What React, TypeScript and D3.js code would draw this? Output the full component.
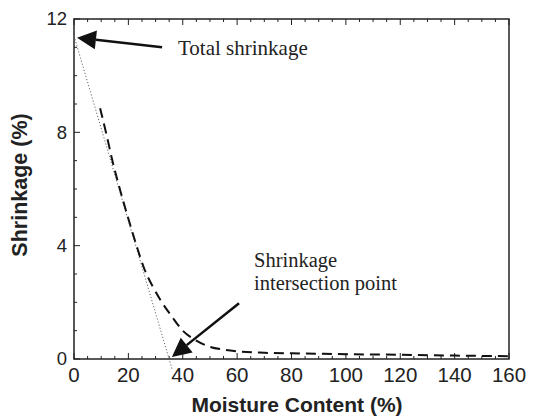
import React, { useEffect, useRef } from 'react';
import * as d3 from 'd3';

// dashed shrinkage curve
const moisture = [9.6, 12, 14, 17, 20, 23, 26, 29, 32, 36, 40, 45, 50, 55, 60, 70, 80, 100, 120, 140, 160];
const shrinkage = [8.85, 7.9, 7.05, 5.95, 4.95, 4.0, 3.15, 2.55, 2.05, 1.5, 1.0, 0.65, 0.43, 0.33, 0.27, 0.22, 0.2, 0.17, 0.15, 0.12, 0.1];

// dotted line from total shrinkage to the intersection point
const lineX = [0, 36.2];
const lineY = [11.4, -0.4];

const xTicks = [0, 20, 40, 60, 80, 100, 120, 140, 160];
const yTicks = [0, 4, 8, 12];

const W = 534;
const H = 416;

const App: React.FC = () => {
  const svgRef = useRef<SVGSVGElement>(null);

  useEffect(() => {
    const svg = d3.select(svgRef.current);
    svg.selectAll('*').remove();

    const left = 74, right = 509, top = 19, bottom = 359;
    const x = d3.scaleLinear().domain([0, 160]).range([left, right]);
    const y = d3.scaleLinear().domain([0, 12]).range([bottom, top]);

    const g = svg.append('g');
    const sans = 'Liberation Sans, Arial, sans-serif';
    const serif = 'Liberation Serif, Times New Roman, serif';

    // minor + major ticks, pointing inward
    const minorX = d3.range(0, 161, 5);
    const minorY = d3.range(0, 13, 1);
    minorX.forEach(v => {
      const len = v % 20 === 0 ? 6 : 3;
      g.append('line').attr('x1', x(v)).attr('x2', x(v)).attr('y1', bottom).attr('y2', bottom - len)
        .attr('stroke', '#222').attr('stroke-width', 1);
      g.append('line').attr('x1', x(v)).attr('x2', x(v)).attr('y1', top).attr('y2', top + len)
        .attr('stroke', '#222').attr('stroke-width', 1);
    });
    minorY.forEach(v => {
      const len = v % 4 === 0 ? 6 : 3;
      g.append('line').attr('x1', left).attr('x2', left + len).attr('y1', y(v)).attr('y2', y(v))
        .attr('stroke', '#222').attr('stroke-width', 1);
    });

    // frame
    g.append('rect')
      .attr('x', left).attr('y', top)
      .attr('width', right - left).attr('height', bottom - top)
      .attr('fill', 'none').attr('stroke', '#222').attr('stroke-width', 1.5);

    // tick labels
    g.selectAll('.xt').data(xTicks).enter().append('text')
      .attr('x', d => x(d)).attr('y', 382)
      .attr('text-anchor', 'middle')
      .attr('font-family', sans)
      .attr('font-size', 20.5).attr('fill', '#222')
      .text(d => d);
    g.selectAll('.yt').data(yTicks).enter().append('text')
      .attr('x', 67).attr('y', d => y(d))
      .attr('dy', '0.35em')
      .attr('text-anchor', 'end')
      .attr('font-family', sans)
      .attr('font-size', 18.5).attr('fill', '#222')
      .text(d => d);

    // axis titles
    g.append('text')
      .attr('x', 297).attr('y', 412)
      .attr('text-anchor', 'middle')
      .attr('font-family', sans)
      .attr('font-size', 21).attr('font-weight', 'bold').attr('fill', '#222')
      .text('Moisture Content (%)');
    g.append('text')
      .attr('transform', 'translate(27,185) rotate(-90)')
      .attr('text-anchor', 'middle')
      .attr('font-family', sans)
      .attr('font-size', 21.5).attr('font-weight', 'bold').attr('fill', '#222')
      .text('Shrinkage (%)');

    // dotted line
    g.append('line')
      .attr('x1', x(lineX[0])).attr('y1', y(lineY[0]))
      .attr('x2', x(lineX[1])).attr('y2', y(lineY[1]))
      .attr('stroke', '#666').attr('stroke-width', 1)
      .attr('stroke-dasharray', '1.2,2');

    // dashed curve
    const line = d3.line<number>()
      .x((_d, i) => x(moisture[i]))
      .y(d => y(d))
      .curve(d3.curveMonotoneX);
    g.append('path')
      .datum(shrinkage)
      .attr('d', line)
      .attr('fill', 'none')
      .attr('stroke', '#111')
      .attr('stroke-width', 2)
      .attr('stroke-dasharray', '10,6');

    // arrows
    const arrow = (fx: number, fy: number, tx: number, ty: number) => {
      const x1 = x(fx), y1 = y(fy), x2 = x(tx), y2 = y(ty);
      const ang = Math.atan2(y2 - y1, x2 - x1);
      const len = 19, hw = 9.5;
      const bx = x2 - len * Math.cos(ang), by = y2 - len * Math.sin(ang);
      g.append('line')
        .attr('x1', x1).attr('y1', y1).attr('x2', bx).attr('y2', by)
        .attr('stroke', '#111').attr('stroke-width', 2.5);
      const pts: [number, number][] = [
        [x2, y2],
        [bx + hw * Math.sin(ang), by - hw * Math.cos(ang)],
        [bx - hw * Math.sin(ang), by + hw * Math.cos(ang)],
      ];
      g.append('polygon').attr('points', pts.map(p => p.join(',')).join(' ')).attr('fill', '#111');
    };
    arrow(32.4, 11.0, 1.1, 11.34);
    arrow(60.7, 1.97, 36, 0.07);

    // annotations
    g.append('text').attr('x', 178).attr('y', 55)
      .attr('font-family', serif).attr('font-size', 21).attr('fill', '#222')
      .text('Total shrinkage');
    g.append('text').attr('x', 254).attr('y', 267)
      .attr('font-family', serif).attr('font-size', 20.5).attr('fill', '#222')
      .text('Shrinkage');
    g.append('text').attr('x', 254).attr('y', 290)
      .attr('font-family', serif).attr('font-size', 20.5).attr('fill', '#222')
      .text('intersection point');
  }, []);

  return (
    <svg ref={svgRef} width={W} height={H}
      style={{ position: 'absolute', left: 0, top: 0, background: '#fff' }} />
  );
};

export default App;
